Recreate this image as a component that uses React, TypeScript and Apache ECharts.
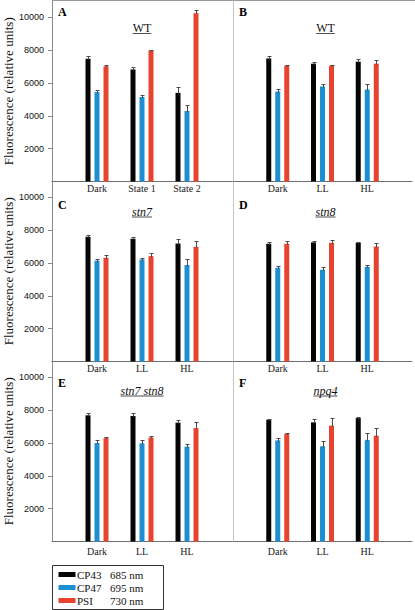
import React, { useEffect, useRef } from "react";
import * as echarts from "echarts";

// ---- data ----
const CATS_STATE = ["Dark", "State 1", "State 2"];
const CATS_LIGHT = ["Dark", "LL", "HL"];
const PANEL_LETTERS = ["A", "B", "C", "D", "E", "F"];
const PANEL_TITLES = ["WT", "WT", "stn7", "stn8", "stn7 stn8", "npq4"];
const PANEL_TITLE_ITALIC = [false, false, true, true, true, true];
const SERIES_NAMES = ["CP43", "CP47", "PSI"];
const SERIES_WAVELENGTHS = ["685 nm", "695 nm", "730 nm"];
const SERIES_COLORS = ["#050505", "#1b8fd2", "#e8432e"];
const Y_TICKS = [2000, 4000, 6000, 8000, 10000];
const Y_MAX = 11000;
const Y_TITLE = "Fluorescence (relative units)";

// values per panel (A..F), each [Dark, State1/LL, State2/HL]
const CP43_VALUES = [
  [7480, 6830, 5400],
  [7500, 7180, 7300],
  [7600, 7480, 7190],
  [7175, 7260, 7230],
  [7690, 7650, 7240],
  [7420, 7260, 7520],
];
const CP47_VALUES = [
  [5450, 5150, 4300],
  [5480, 5790, 5600],
  [6140, 6220, 5880],
  [5710, 5590, 5770],
  [6000, 5980, 5780],
  [6160, 5800, 6180],
];
const PSI_VALUES = [
  [7020, 7990, 10260],
  [7060, 7060, 7180],
  [6320, 6420, 6990],
  [7175, 7230, 7010],
  [6300, 6340, 6910],
  [6570, 7060, 6450],
];
const CP43_ERRORS = [
  [140, 120, 350],
  [150, 120, 170],
  [100, 120, 300],
  [100, 60, 60],
  [160, 160, 160],
  [50, 200, 50],
];
const CP47_ERRORS = [
  [120, 150, 340],
  [130, 160, 320],
  [100, 80, 340],
  [120, 160, 110],
  [180, 200, 180],
  [170, 300, 450],
];
const PSI_ERRORS = [
  [50, 50, 220],
  [50, 50, 240],
  [160, 220, 370],
  [180, 190, 220],
  [50, 80, 370],
  [50, 480, 440],
];

const VALUES = [CP43_VALUES, CP47_VALUES, PSI_VALUES];
const ERRORS = [CP43_ERRORS, CP47_ERRORS, PSI_ERRORS];

// ---- layout ----
const COL_LEFT = [52, 233];
const COL_WIDTH = [180, 181];
const ROW_TOP = [1, 181, 361];
const ROW_HEIGHT = 180.5;
const BAR_WIDTH = 5;
const BAR_GAP_PX = 4;
const BAR_OFFSETS = [-(BAR_WIDTH + BAR_GAP_PX), 0, BAR_WIDTH + BAR_GAP_PX];
const SERIF = "Liberation Serif";
const SANS = "Liberation Sans";

function measure(text: string, font: string): number {
  const c = document.createElement("canvas").getContext("2d");
  if (!c) return text.length * 6;
  c.font = font;
  return c.measureText(text).width;
}

export default function App() {
  const ref = useRef<HTMLDivElement>(null);

  useEffect(() => {
    if (!ref.current) return;
    document.body.style.margin = "0";
    const chart = echarts.init(ref.current, null, { renderer: "svg" });

    const grids: any[] = [];
    const xAxes: any[] = [];
    const yAxes: any[] = [];
    const series: any[] = [];
    const graphics: any[] = [];

    for (let p = 0; p < 6; p++) {
      const col = p % 2;
      const row = Math.floor(p / 2);
      const cats = p === 0 ? CATS_STATE : CATS_LIGHT;
      grids.push({
        left: COL_LEFT[col],
        top: ROW_TOP[row],
        width: COL_WIDTH[col],
        height: ROW_HEIGHT,
      });
      xAxes.push({
        type: "category",
        gridIndex: p,
        data: ["", ...cats, ""],
        boundaryGap: false,
        axisLine: { show: true, lineStyle: { color: "#6e6e6e", width: 1 } },
        axisTick: { show: false },
        axisLabel: {
          interval: 0,
          fontFamily: SERIF,
          fontSize: 10,
          color: "#1a1a1a",
          margin: row === 2 ? 5 : 2,
        },
        splitLine: { show: false },
      });
      yAxes.push({
        type: "value",
        gridIndex: p,
        min: 0,
        max: Y_MAX,
        splitLine: { show: false },
        axisLine: {
          show: true,
          lineStyle: { color: col === 0 ? "#8a8a8a" : "#c4c4c4", width: 1 },
        },
        axisTick: {
          show: col === 0,
          length: 4,
          customValues: Y_TICKS,
          lineStyle: { color: "#8a8a8a" },
        },
        axisLabel: {
          show: col === 0,
          customValues: Y_TICKS,
          formatter: (v: number) => String(v),
          fontFamily: SANS,
          fontSize: 9,
          color: "#111",
          margin: 8,
        },
        name: col === 0 ? Y_TITLE : "",
        nameLocation: "middle",
        nameGap: 37,
        nameTextStyle: { fontFamily: SERIF, fontSize: 13, color: "#111" },
      });

      for (let s = 0; s < 3; s++) {
        series.push({
          type: "bar",
          name: SERIES_NAMES[s],
          xAxisIndex: p,
          yAxisIndex: p,
          data: [null, ...VALUES[s][p], null],
          barWidth: BAR_WIDTH,
          barGap: `${(BAR_GAP_PX / BAR_WIDTH) * 100}%`,
          itemStyle: { color: SERIES_COLORS[s] },
          z: 2,
        });
      }
      for (let s = 0; s < 3; s++) {
        const off = BAR_OFFSETS[s];
        series.push({
          type: "custom",
          name: SERIES_NAMES[s] + " error",
          xAxisIndex: p,
          yAxisIndex: p,
          silent: true,
          z: 3,
          encode: { x: 0, y: 1 },
          data: VALUES[s][p].map((v, k) => [k + 1, v, ERRORS[s][p][k]]),
          renderItem: (params: any, api: any) => {
            const x = api.value(0);
            const v = api.value(1);
            const e = api.value(2);
            const base = api.coord([x, v]);
            const top = api.coord([x, v + e]);
            const cx = Math.round(base[0] + off) + 0.5;
            const ty = Math.round(top[1]) + 0.5;
            const st = { stroke: "#4a4a4a", lineWidth: 1 };
            return {
              type: "group",
              children: [
                { type: "line", shape: { x1: cx, y1: base[1] + 1, x2: cx, y2: ty }, style: st },
                { type: "line", shape: { x1: cx - 2, y1: ty, x2: cx + 2, y2: ty }, style: st },
              ],
            };
          },
        });
      }

      const letterY = [11.5, 205, 383][row];
      const titleY = [28, 211.5, 390.5][row];
      const colCenter = [142, 325.5][col];
      graphics.push({
        type: "text",
        x: COL_LEFT[col] + 6,
        y: letterY,
        style: {
          text: PANEL_LETTERS[p],
          fontFamily: SERIF,
          fontSize: 12,
          fontWeight: "bold",
          fill: "#000",
          verticalAlign: "middle",
          align: "left",
        },
      });
      const italic = PANEL_TITLE_ITALIC[p];
      const w = measure(PANEL_TITLES[p], `${italic ? "italic " : ""}12px "${SERIF}"`);
      graphics.push({
        type: "text",
        x: colCenter,
        y: titleY,
        style: {
          text: PANEL_TITLES[p],
          fontFamily: SERIF,
          fontSize: 12,
          fontStyle: italic ? "italic" : "normal",
          fill: "#111",
          align: "center",
          verticalAlign: "middle",
        },
      });
      graphics.push({
        type: "line",
        shape: {
          x1: colCenter - w / 2,
          y1: titleY + 5.5,
          x2: colCenter + w / 2,
          y2: titleY + 5.5,
        },
        style: { stroke: "#222", lineWidth: 0.8 },
      });
    }

    // top border
    graphics.push({
      type: "line",
      shape: { x1: 52, y1: 0.5, x2: 415, y2: 0.5 },
      style: { stroke: "#9a9a9a", lineWidth: 1 },
    });

    // legend
    graphics.push({
      type: "rect",
      shape: { x: 52.5, y: 565.5, width: 111, height: 44 },
      style: { fill: "#fff", stroke: "#333", lineWidth: 1 },
    });
    const rowsY = [574.5, 587.5, 600.5];
    for (let s = 0; s < 3; s++) {
      graphics.push({
        type: "rect",
        shape: { x: 58.5, y: rowsY[s] - 2.5, width: 17, height: 5 },
        style: { fill: SERIES_COLORS[s] },
      });
      graphics.push({
        type: "text",
        x: 77,
        y: rowsY[s],
        style: {
          text: SERIES_NAMES[s],
          fontFamily: SERIF,
          fontSize: 11,
          fill: "#111",
          verticalAlign: "middle",
        },
      });
      graphics.push({
        type: "text",
        x: 110,
        y: rowsY[s],
        style: {
          text: SERIES_WAVELENGTHS[s],
          fontFamily: SERIF,
          fontSize: 11,
          fill: "#111",
          verticalAlign: "middle",
        },
      });
    }

    chart.setOption({
      animation: false,
      backgroundColor: "#fff",
      grid: grids,
      xAxis: xAxes,
      yAxis: yAxes,
      series,
      graphic: { elements: graphics },
    });

    return () => chart.dispose();
  }, []);

  return (
    <div
      ref={ref}
      style={{ width: 415, height: 610, position: "absolute", left: 0, top: 0 }}
    />
  );
}
